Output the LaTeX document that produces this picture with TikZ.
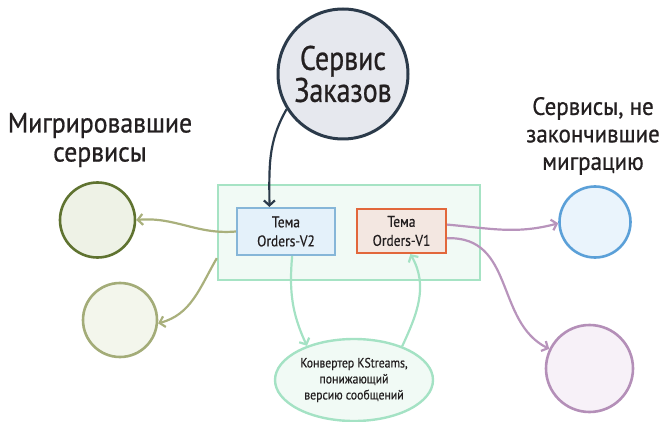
\documentclass[tikz,border=0pt]{standalone}
\usepackage{fontspec}
\setmainfont{PT Sans}
\newfontfamily\cond[FakeStretch=0.82,FakeBold=0.7]{PT Sans}
\newfontfamily\condw[FakeStretch=0.92,FakeBold=0.7]{PT Sans}
\newfontfamily\condm[FakeStretch=0.87,FakeBold=0.5]{PT Sans}
\usetikzlibrary{shapes.geometric,arrows.meta}
\definecolor{darkslate}{HTML}{2B3A4A}
\definecolor{bigfill}{HTML}{E6E8EE}
\definecolor{olivedark}{HTML}{5F7330}
\definecolor{olivelight}{HTML}{A3AC78}
\definecolor{olivearr}{HTML}{A9B07C}
\definecolor{olivefill}{HTML}{EEF2E6}
\definecolor{olivefillb}{HTML}{F3F6EC}
\definecolor{mint}{HTML}{A6E3C4}
\definecolor{mintfill}{HTML}{F1FAF5}
\definecolor{mintarr}{HTML}{A4E2C4}
\definecolor{bluestroke}{HTML}{86B6D8}
\definecolor{bluefill}{HTML}{E4F1FA}
\definecolor{orangestroke}{HTML}{E2673B}
\definecolor{orangefill}{HTML}{F3E7E1}
\definecolor{bluecirc}{HTML}{5BA0D8}
\definecolor{bluecircfill}{HTML}{EAF4FC}
\definecolor{purp}{HTML}{B48FB8}
\definecolor{purpfill}{HTML}{F7F1F8}
\definecolor{purparr}{HTML}{B894BC}
\definecolor{txt}{HTML}{231F20}
\begin{document}
\begin{tikzpicture}[x=1pt,y=-1pt,
  circ/.style={circle,line width=2.6pt,inner sep=0pt},
  topic/.style={rectangle,line width=2.2pt,inner sep=0pt,align=center,text=txt,
    font=\condm\fontsize{15.5}{19}\selectfont},
  lbl/.style={align=center,inner sep=0pt,text=txt},
  arr/.style={-{Straight Barb[length=5pt,width=11pt]},line width=2.2pt}]
\useasboundingbox (0,0) rectangle (661,422);
% container
\node[rectangle,draw=mint,fill=mintfill,line width=2.4pt,minimum width=262pt,minimum height=95pt,inner sep=0pt] (cont) at (349,232.5) {};
% big circle
\node[circ,draw=darkslate,fill=bigfill,line width=3pt,minimum size=130pt,align=center,
  font=\cond\fontsize{34}{31}\selectfont,text=txt] (svc) at (343,74) {Сервис\\Заказов};
% labels
\node[lbl,font=\condw\fontsize{28}{29}\selectfont] (mig) at (100,140) {Мигрировавшие\\сервисы};
\node[lbl,font=\condw\fontsize{25}{27.5}\selectfont] (notmig) at (593,136) {Сервисы, не\\закончившие\\миграцию};
% circles
\node[circ,draw=olivedark,fill=olivefill,minimum size=75pt] (c1) at (97.5,220) {};
\node[circ,draw=olivelight,fill=olivefillb,minimum size=74pt] (c2) at (120,320) {};
\node[circ,draw=bluecirc,fill=bluecircfill,minimum size=71pt] (cb) at (595,222) {};
\node[circ,draw=purp,fill=purpfill,minimum size=87pt] (cp) at (589.5,368.5) {};
% topics
\node[topic,draw=bluestroke,fill=bluefill,minimum width=98pt,minimum height=47pt] (v2) at (286,231.5) {Тема\\Orders-V2};
\node[topic,draw=orangestroke,fill=orangefill,minimum width=89pt,minimum height=44pt] (v1) at (401.5,231) {Тема\\Orders-V1};
% converter
\node[ellipse,draw=mintarr,fill=mintfill,line width=2.4pt,minimum width=158pt,minimum height=82pt,inner sep=0pt,
  align=center,font=\condm\fontsize{13.5}{16}\selectfont,text=txt] (conv) at (354,380) {Конвертер KStreams,\\понижающий\\версию сообщений};
% connectors
\draw[arr,darkslate] (svc.212) to[out=240,in=90] (v2.124);
\draw[arr,olivearr] (v2.west) to[out=185,in=5] (c1.east);
\draw[arr,olivearr] (cont.191) to[out=240,in=15] (c2.-5);
\draw[arr,purparr] (v1.8) to[out=-5,in=195] (cb.182);
\draw[arr,purparr] (v1.-9) .. controls (515,236) and (495,322) .. (cp.154);
\draw[arr,mintarr] (v2.-76) to[out=265,in=115] (conv.144);
\draw[arr,mintarr] (conv.35) to[out=65,in=-60] (v1.-69);
\end{tikzpicture}
\end{document}
